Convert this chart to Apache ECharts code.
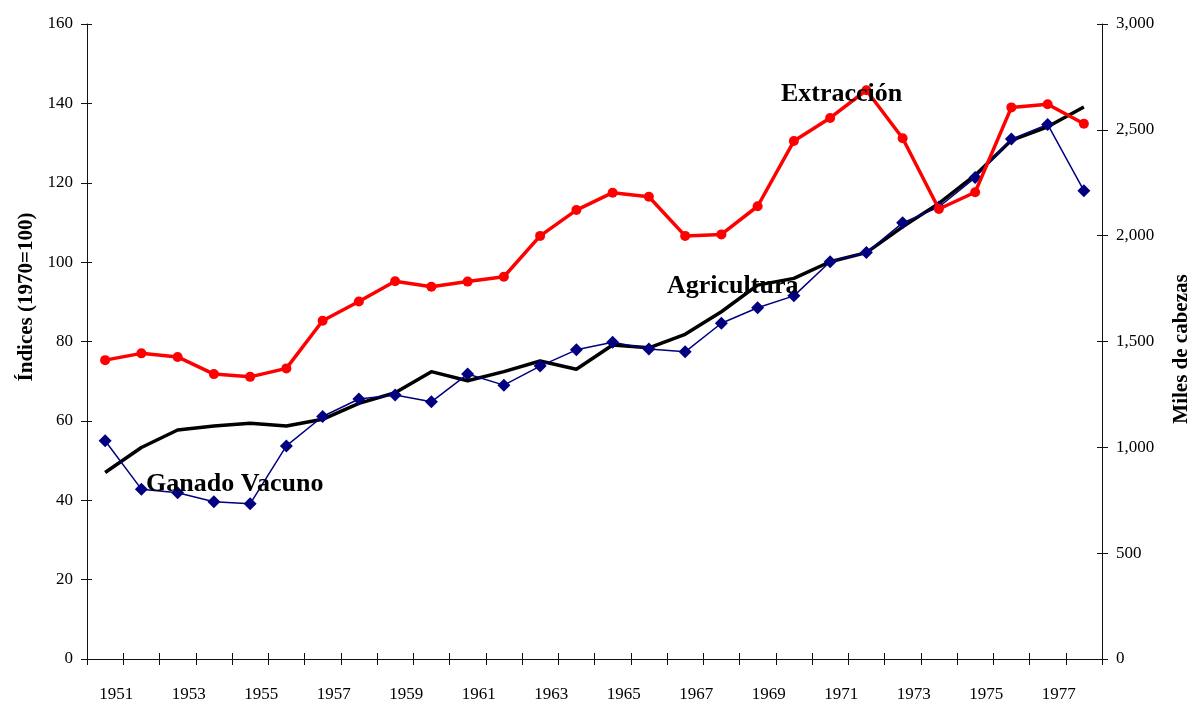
<!DOCTYPE html>
<html>
<head>
<meta charset="utf-8">
<script src="https://cdn.jsdelivr.net/npm/echarts@6/dist/echarts.min.js"></script>
<style>
html,body{margin:0;padding:0;background:#fff;}
#c{width:1194px;height:704px;}
</style>
</head>
<body>
<div id="c"></div>
<script>
const years = ['1951','1952','1953','1954','1955','1956','1957','1958','1959','1960','1961','1962','1963','1964','1965','1966','1967','1968','1969','1970','1971','1972','1973','1974','1975','1976','1977','1978'];
// Extracción (miles de cabezas, eje derecho)
const extraccion = [1412,1444,1427,1346,1333,1373,1598,1689,1785,1759,1783,1806,1999,2121,2203,2184,1999,2006,2139,2447,2556,2687,2460,2126,2205,2606,2621,2529];
// Ganado Vacuno (índice 1970=100)
const ganado = [55.0,42.8,41.9,39.6,39.1,53.7,61.1,65.5,66.5,64.8,71.8,69.0,73.8,77.9,79.8,78.1,77.4,84.6,88.5,91.5,100.1,102.4,109.9,113.9,121.3,131.0,134.7,118.0];
// Agricultura (índice 1970=100)
const agricultura = [47.0,53.3,57.7,58.7,59.4,58.7,60.4,64.4,67.1,72.4,70.1,72.4,75.1,73.0,79.1,78.4,81.8,87.5,94.2,95.9,100.1,102.4,108.9,114.8,121.9,130.7,134.1,139.1];
const leftTicks = {min:0, max:160, interval:20};
const rightTicks = {min:0, max:3000, interval:500};

const FONT = '"Liberation Serif","Times New Roman",serif';
const axisColor = '#111';
const chart = echarts.init(document.getElementById('c'));
const fmt = v => v.toLocaleString('en-US');
chart.setOption({
  animation:false,
  backgroundColor:'#fff',
  grid:{left:87, right:92, top:24, bottom:45},
  xAxis:[
    {type:'category', data:years, boundaryGap:true,
     axisLine:{lineStyle:{color:axisColor,width:1}},
     axisTick:{show:true, interval:0, length:6, lineStyle:{color:axisColor}},
     axisLabel:{interval:1, color:'#000', fontFamily:FONT, fontSize:17, margin:27, padding:[0,0,0,22]},
     splitLine:{show:false}},
    {type:'category', data:years, boundaryGap:true, position:'bottom',
     axisLine:{show:false},
     axisTick:{show:true, inside:true, interval:0, length:6, lineStyle:{color:axisColor}},
     axisLabel:{show:false}, splitLine:{show:false}}
  ],
  yAxis:[
    {type:'value', position:'left', min:leftTicks.min, max:leftTicks.max, interval:leftTicks.interval,
     axisLine:{show:true, lineStyle:{color:axisColor,width:1}},
     axisTick:{show:true, length:6, lineStyle:{color:axisColor}},
     axisLabel:{color:'#000', fontFamily:FONT, fontSize:17, margin:14},
     splitLine:{show:false}},
    {type:'value', position:'right', min:rightTicks.min, max:rightTicks.max, interval:rightTicks.interval,
     axisLine:{show:true, lineStyle:{color:axisColor,width:1}},
     axisTick:{show:true, length:6, lineStyle:{color:axisColor}},
     axisLabel:{color:'#000', fontFamily:FONT, fontSize:17, margin:14, formatter:fmt},
     splitLine:{show:false}},
    {type:'value', position:'left', min:leftTicks.min, max:leftTicks.max, interval:leftTicks.interval,
     axisLine:{show:false}, axisTick:{show:true, inside:true, length:5, lineStyle:{color:axisColor}},
     axisLabel:{show:false}, splitLine:{show:false}},
    {type:'value', position:'right', min:rightTicks.min, max:rightTicks.max, interval:rightTicks.interval,
     axisLine:{show:false}, axisTick:{show:true, inside:true, length:5, lineStyle:{color:axisColor}},
     axisLabel:{show:false}, splitLine:{show:false}}
  ],
  series:[
    {name:'Agricultura', type:'line', yAxisIndex:0, data:agricultura, showSymbol:false, symbol:'none',
     lineStyle:{color:'#000', width:3.5}, z:2},
    {name:'Ganado Vacuno', type:'line', yAxisIndex:0, data:ganado, symbol:'diamond', symbolSize:13,
     itemStyle:{color:'#000080'}, lineStyle:{color:'#000080', width:1.5}, z:3},
    {name:'Extracción', type:'line', yAxisIndex:1, data:extraccion, symbol:'circle', symbolSize:10,
     itemStyle:{color:'#ff0000'}, lineStyle:{color:'#ff0000', width:3.5}, z:4}
  ],
  graphic:[
    {type:'text', x:27, y:297, rotation:Math.PI/2, z:100,
     style:{text:'Índices (1970=100)', font:'bold 21px '+FONT, fill:'#000', align:'center', verticalAlign:'middle'}},
    {type:'text', x:1182, y:349, rotation:Math.PI/2, z:100,
     style:{text:'Miles de cabezas', font:'bold 21px '+FONT, fill:'#000', align:'center', verticalAlign:'middle'}},
    {type:'text', x:781, y:94, z:100,
     style:{text:'Extracción', font:'bold 26px '+FONT, fill:'#000', align:'left', verticalAlign:'middle'}},
    {type:'text', x:667, y:286, z:100,
     style:{text:'Agricultura', font:'bold 26px '+FONT, fill:'#000', align:'left', verticalAlign:'middle'}},
    {type:'text', x:146, y:484, z:100,
     style:{text:'Ganado Vacuno', font:'bold 26px '+FONT, fill:'#000', align:'left', verticalAlign:'middle'}}
  ]
});
</script>
</body>
</html>
